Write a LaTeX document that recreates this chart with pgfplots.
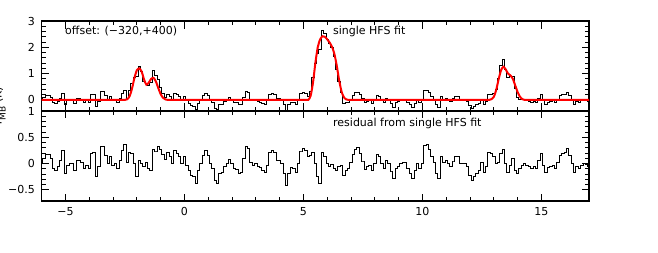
\documentclass[border=0pt]{standalone}
\usepackage{fontspec}
\setmainfont{DejaVu Sans}
\usepackage{pgfplots}
\usepackage{pgfplotstable}
\pgfplotsset{compat=1.18}
\definecolor{fitred}{RGB}{255,0,0}
\pgfplotstableread{
v res obs fit
-6.0 0.03 0.03 0
-5.9 0.10 0.10 0
-5.8 0.18 0.18 0
-5.7 0.18 0.18 0
-5.6 0.10 0.10 0
-5.5 -0.10 -0.10 0
-5.4 -0.13 -0.13 0
-5.3 -0.06 -0.06 0
-5.2 0.06 0.06 0
-5.1 0.25 0.25 0
-5.0 -0.19 -0.19 0
-4.9 -0.03 -0.03 0
-4.8 0.00 0.00 0
-4.7 0.00 0.00 0
-4.6 -0.13 -0.13 0
-4.5 0.06 0.06 0
-4.4 0.06 0.06 0
-4.3 0.03 0.03 0
-4.2 -0.10 -0.10 0
-4.1 -0.03 -0.03 0
-4.0 -0.10 -0.10 0
-3.9 0.19 0.19 0
-3.8 0.22 0.22 0
-3.7 -0.25 -0.25 0
-3.6 -0.06 -0.06 0
-3.5 0.32 0.32 0
-3.4 0.32 0.32 0
-3.3 0.16 0.16 0
-3.2 0.00 0.00 0
-3.1 0.13 0.13 0
-3.0 -0.03 -0.03 0
-2.9 0.00 0.00 0
-2.8 -0.10 -0.10 0
-2.7 0.06 0.06 0
-2.6 0.25 0.25 0
-2.5 0.37 0.37 0
-2.4 0.03 0.06 0.03
-2.3 0.22 0.37 0.15
-2.2 0.19 0.64 0.45
-2.1 0.00 0.85 0.85
-2.0 -0.25 0.88 1.13
-1.9 0.06 1.26 1.20
-1.8 0.00 1.08 1.08
-1.7 -0.06 0.72 0.78
-1.6 0.03 0.61 0.58
-1.5 -0.10 0.56 0.66
-1.4 -0.13 0.67 0.80
-1.3 0.27 1.11 0.84
-1.2 0.24 0.94 0.70
-1.1 0.32 0.77 0.45
-1.0 0.27 0.49 0.22
-0.9 0.18 0.26 0.08
-0.8 0.08 0.10 0.02
-0.7 0.22 0.22 0
-0.6 0.14 0.14 0
-0.5 0.00 0.00 0
-0.4 0.25 0.25 0
-0.3 0.20 0.20 0
-0.2 0.13 0.13 0
-0.1 0.00 0.00 0
0.0 0.14 0.14 0
0.1 -0.03 -0.03 0
0.2 -0.13 -0.13 0
0.3 -0.22 -0.22 0
0.4 -0.25 -0.25 0
0.5 -0.38 -0.38 0
0.6 -0.13 -0.13 0
0.7 0.00 0.00 0
0.8 0.16 0.16 0
0.9 0.25 0.25 0
1.0 0.16 0.16 0
1.1 0.00 0.00 0
1.2 -0.10 -0.10 0
1.3 -0.32 -0.32 0
1.4 -0.38 -0.38 0
1.5 -0.19 -0.19 0
1.6 -0.16 -0.16 0
1.7 -0.06 -0.06 0
1.8 0.00 0.00 0
1.9 0.08 0.08 0
2.0 0.00 0.00 0
2.1 -0.10 -0.10 0
2.2 -0.11 -0.11 0
2.3 -0.19 -0.19 0
2.4 -0.16 -0.16 0
2.5 0.10 0.10 0
2.6 0.32 0.32 0
2.7 0.28 0.28 0
2.8 0.03 0.03 0
2.9 -0.03 -0.03 0
3.0 0.00 0.00 0
3.1 -0.05 -0.05 0
3.2 -0.08 -0.08 0
3.3 -0.13 -0.13 0
3.4 -0.16 -0.16 0
3.5 -0.03 -0.03 0
3.6 0.22 0.22 0
3.7 0.25 0.25 0
3.8 0.22 0.22 0
3.9 0.06 0.06 0
4.0 0.06 0.06 0
4.1 0.00 0.00 0
4.2 -0.19 -0.19 0
4.3 -0.41 -0.41 0
4.4 -0.19 -0.19 0
4.5 -0.08 -0.08 0
4.6 -0.10 -0.10 0
4.7 -0.16 -0.16 0
4.8 0.00 0.00 0
4.9 0.24 0.24 0
5.0 0.28 0.28 0
5.1 0.25 0.25 0
5.2 0.14 0.14 0
5.3 0.16 0.31 0.15
5.4 0.22 0.87 0.65
5.5 0.00 1.40 1.40
5.6 -0.25 1.75 2.00
5.7 -0.38 1.92 2.30
5.8 0.22 2.64 2.42
5.9 0.14 2.54 2.40
6.0 0.00 2.30 2.30
6.1 -0.05 2.13 2.18
6.2 -0.01 2.01 2.02
6.3 -0.10 1.65 1.75
6.4 -0.13 1.17 1.30
6.5 -0.06 0.69 0.75
6.6 -0.03 0.29 0.32
6.7 -0.22 -0.12 0.10
6.8 -0.13 -0.11 0.02
6.9 -0.10 -0.10 0
7.0 0.03 0.03 0
7.1 0.18 0.18 0
7.2 0.27 0.27 0
7.3 0.30 0.30 0
7.4 0.19 0.19 0
7.5 0.05 0.05 0
7.6 -0.11 -0.11 0
7.7 -0.05 -0.05 0
7.8 -0.03 -0.03 0
7.9 -0.13 -0.13 0
8.0 0.00 0.00 0
8.1 0.18 0.18 0
8.2 0.14 0.14 0
8.3 0.00 0.00 0
8.4 -0.10 -0.10 0
8.5 0.06 0.06 0
8.6 0.00 0.00 0
8.7 -0.14 -0.14 0
8.8 -0.28 -0.28 0
8.9 -0.10 -0.10 0
9.0 -0.06 -0.06 0
9.1 0.00 0.00 0
9.2 0.03 0.03 0
9.3 0.03 0.03 0
9.4 -0.10 -0.10 0
9.5 -0.19 -0.19 0
9.6 -0.28 -0.28 0
9.7 -0.13 -0.13 0
9.8 0.00 0.00 0
9.9 -0.10 -0.10 0
10.0 0.00 0.00 0
10.1 0.35 0.35 0
10.2 0.37 0.37 0
10.3 0.27 0.27 0
10.4 0.13 0.13 0
10.5 0.03 0.03 0
10.6 -0.19 -0.19 0
10.7 -0.28 -0.28 0
10.8 0.13 0.13 0
10.9 0.03 0.03 0
11.0 0.06 0.06 0
11.1 0.00 0.00 0
11.2 -0.06 -0.06 0
11.3 0.05 0.05 0
11.4 0.13 0.13 0
11.5 0.13 0.13 0
11.6 0.00 0.00 0
11.7 0.00 0.00 0
11.8 0.00 0.00 0
11.9 -0.06 -0.06 0
12.0 -0.22 -0.22 0
12.1 -0.32 -0.32 0
12.2 -0.25 -0.25 0
12.3 -0.19 -0.19 0
12.4 -0.13 -0.13 0
12.5 0.03 0.03 0
12.6 -0.16 -0.16 0
12.7 -0.06 -0.06 0
12.8 0.22 0.22 0
12.9 0.19 0.22 0.03
13.0 0.14 0.26 0.12
13.1 0.00 0.38 0.38
13.2 0.03 0.81 0.78
13.3 0.19 1.31 1.12
13.4 0.27 1.53 1.26
13.5 0.00 1.16 1.16
13.6 -0.16 0.84 1.00
13.7 -0.03 0.90 0.93
13.8 0.10 0.90 0.80
13.9 -0.13 0.42 0.55
14.0 -0.19 0.11 0.30
14.1 -0.10 0.02 0.12
14.2 -0.03 0.00 0.03
14.3 0.00 0.00 0
14.4 -0.03 -0.03 0
14.5 -0.06 -0.06 0
14.6 -0.10 -0.10 0
14.7 -0.05 -0.05 0
14.8 -0.10 -0.10 0
14.9 0.06 0.06 0
15.0 0.19 0.19 0
15.1 -0.03 -0.03 0
15.2 -0.16 -0.16 0
15.3 -0.08 -0.08 0
15.4 -0.06 -0.06 0
15.5 -0.03 -0.03 0
15.6 -0.10 -0.10 0
15.7 0.03 0.03 0
15.8 0.16 0.16 0
15.9 0.19 0.19 0
16.0 0.22 0.22 0
16.1 0.28 0.28 0
16.2 0.16 0.16 0
16.3 0.00 0.00 0
16.4 -0.16 -0.16 0
16.5 -0.06 -0.06 0
16.6 -0.10 -0.10 0
16.7 -0.03 -0.03 0
16.8 0.00 0.00 0
16.9 -0.01 -0.01 0
17.0 -0.06 -0.06 0
}\spec
\pgfplotsset{
  panel/.style={
    scale only axis, width=547.3pt, height=90pt,
    xmin=-6, xmax=17,
    xtick={-5,0,5,10,15}, minor x tick num=4,
    tick align=inside, xtick pos=both, ytick pos=both,
    xticklabel pos=lower, yticklabel pos=left,
    major tick length=7.5pt, minor tick length=4pt,
    axis line style={line width=1.1pt},
    every tick/.style={black, line width=0.9pt},
    yticklabel style={xshift=-3pt},
    xticklabel style={yshift=-2.3pt},
    clip=true,
  }
}
\begin{document}
\fontsize{11}{13}\selectfont
\begin{tikzpicture}
\useasboundingbox (0,0) rectangle (658pt,252pt);
\begin{axis}[panel, at={(41.7pt,141pt)}, anchor=south west,
  ymin=-0.42, ymax=3, ytick={0,1,2,3}, yticklabels={0,1,2,3},
  minor y tick num=4, xticklabels={}]
  \addplot[black, line width=1pt, const plot mark mid] table[x=v, y=obs] {\spec};
  \addplot[fitred, line width=2pt, smooth, tension=0.4] table[x=v, y=fit] {\spec};
  \node[anchor=base west, inner sep=0] at (axis cs:-5.02,2.47) {offset: (−320,+400)};
  \node[anchor=base west, inner sep=0] at (axis cs:6.24,2.47) {single HFS fit};
\end{axis}
\begin{axis}[panel, at={(41.7pt,51pt)}, anchor=south west,
  ymin=-0.71, ymax=1, ytick={-0.5,0,0.5,1}, yticklabels={−0.5,0,0.5,1},
  minor y tick num=4, xticklabels={−5,0,5,10,15}]
  \addplot[black, line width=1pt, const plot mark mid] table[x=v, y=res] {\spec};
  \node[anchor=base west, inner sep=0] at (axis cs:6.24,0.696) {residual from single HFS fit};
  \node[anchor=base, inner sep=0, yshift=-25.7pt] at (rel axis cs:0.5,0) {Velocity (km/s)};
\end{axis}
\node[rotate=90, anchor=base west, inner sep=0] at (1.5pt,125pt) {T\raisebox{-4pt}{\fontsize{9}{10}\selectfont MB} (K)};
\end{tikzpicture}
\end{document}
